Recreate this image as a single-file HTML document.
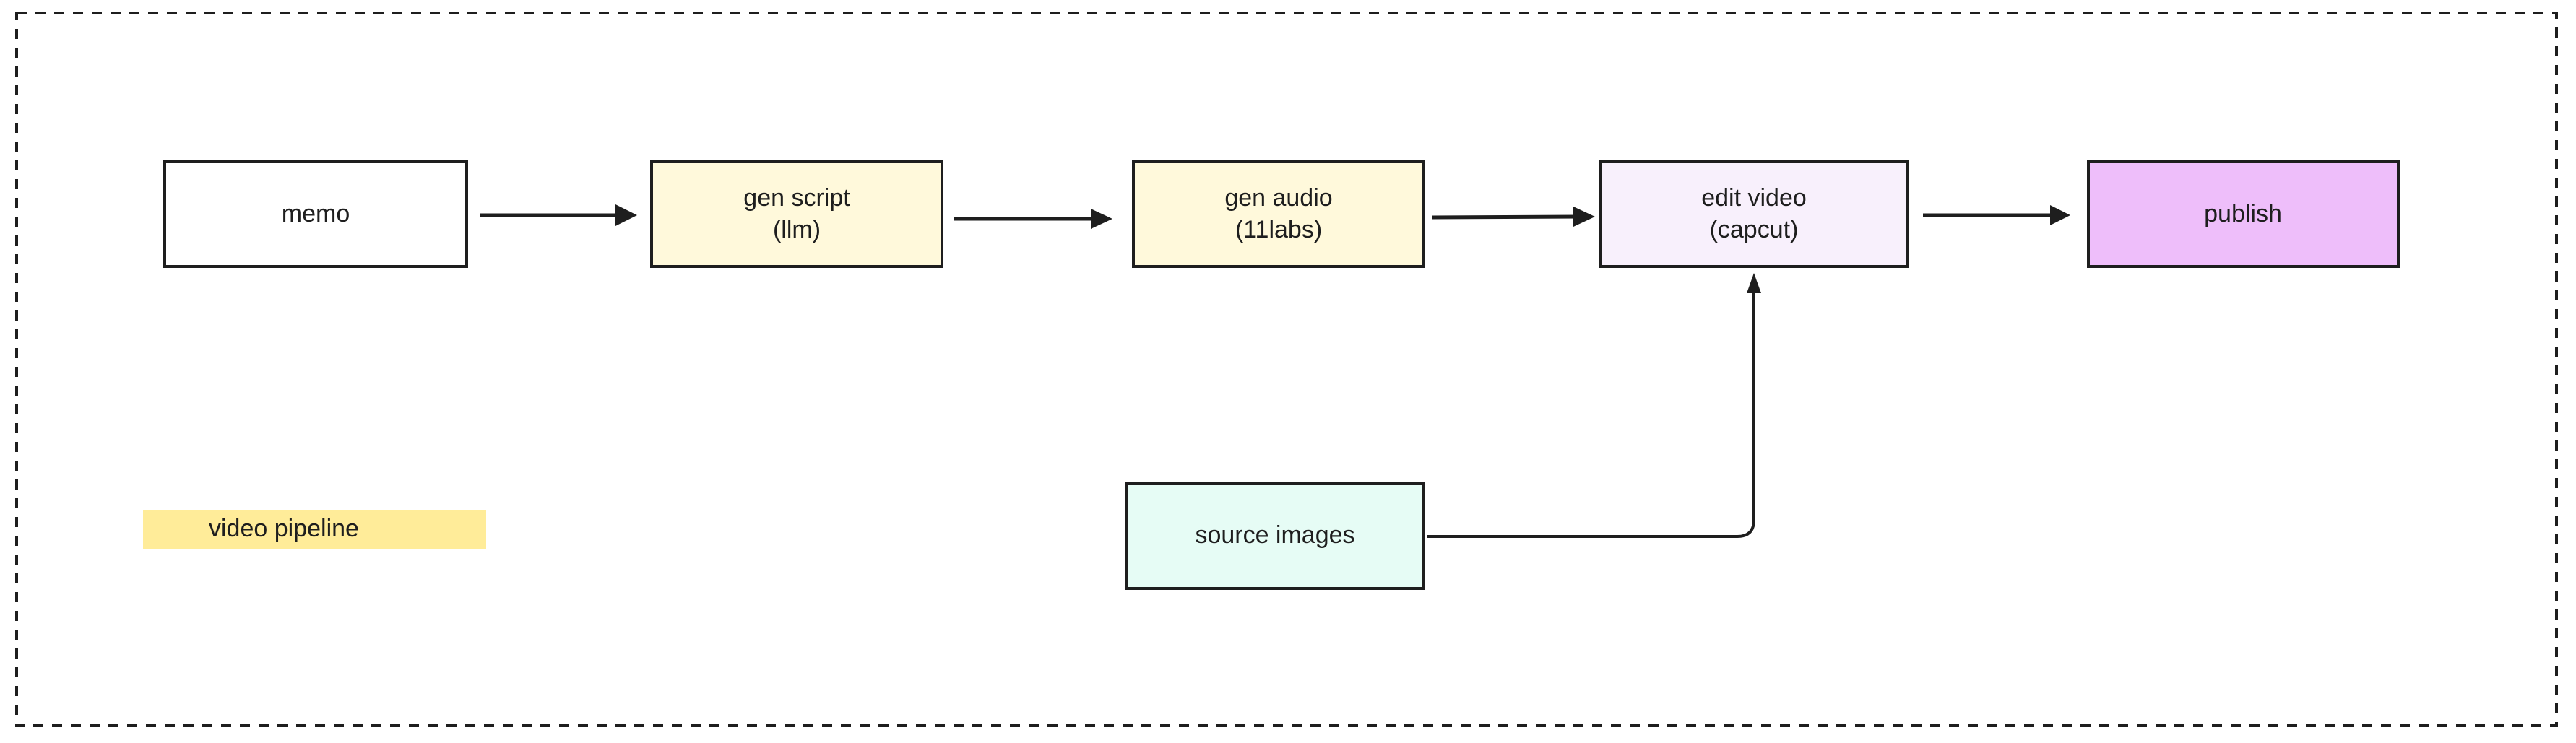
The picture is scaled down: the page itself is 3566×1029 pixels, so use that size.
<!DOCTYPE html>
<html><head><meta charset="utf-8"><style>
html,body{margin:0;padding:0;background:#fff;}
svg{display:block}
text{font-family:"Liberation Sans",sans-serif;font-size:34px;fill:#1e1e1e;text-anchor:middle;dominant-baseline:middle}
</style></head><body>
<svg width="3566" height="1029" viewBox="0 0 3566 1029">
<defs><marker id="a" markerWidth="10" markerHeight="10" refX="8" refY="5" orient="auto" markerUnits="userSpaceOnUse" viewBox="0 0 10 10"></marker></defs>
<rect x="23" y="18" width="3516" height="987" fill="none" stroke="#1e1e1e" stroke-width="4" stroke-dasharray="14 12"/>
<g stroke="#1e1e1e" stroke-width="4">
<rect x="228" y="224" width="418" height="145" fill="#ffffff"/>
<rect x="902" y="224" width="402" height="145" fill="#fff9db"/>
<rect x="1569" y="224" width="402" height="145" fill="#fff9db"/>
<rect x="2216" y="224" width="424" height="145" fill="#f8f0fc"/>
<rect x="2891" y="224" width="429" height="145" fill="#eebefa"/>
<rect x="1560" y="670" width="411" height="145" fill="#e6fcf5"/>
</g>
<rect x="198" y="707" width="475" height="53" fill="#ffec99"/>
<g stroke="#1e1e1e" stroke-width="5" fill="none">
<line x1="664" y1="298" x2="862" y2="298"/>
<line x1="1320" y1="303" x2="1522" y2="303"/>
<line x1="1982" y1="301" x2="2190" y2="300"/>
<line x1="2662" y1="298" x2="2848" y2="298"/>
<path d="M1976 743 H2405 Q2428 743 2428 720 V400" stroke-width="4"/>
</g>
<g fill="#1e1e1e">
<polygon points="852,283 882,298 852,313"/>
<polygon points="1510,289 1540,303 1510,317"/>
<polygon points="2178,286 2208,300 2178,314"/>
<polygon points="2838,284 2866,298 2838,312"/>
<polygon points="2418,406 2428,378 2438,406"/>
</g>
<text x="437" y="298">memo</text>
<text x="1103" y="276">gen script</text>
<text x="1103" y="320">(llm)</text>
<text x="1770" y="276">gen audio</text>
<text x="1770" y="320">(11labs)</text>
<text x="2428" y="276">edit video</text>
<text x="2428" y="320">(capcut)</text>
<text x="3105" y="298">publish</text>
<text x="1765" y="743">source images</text>
<text x="289" y="734" style="text-anchor:start">video pipeline</text>
</svg>
</body></html>
